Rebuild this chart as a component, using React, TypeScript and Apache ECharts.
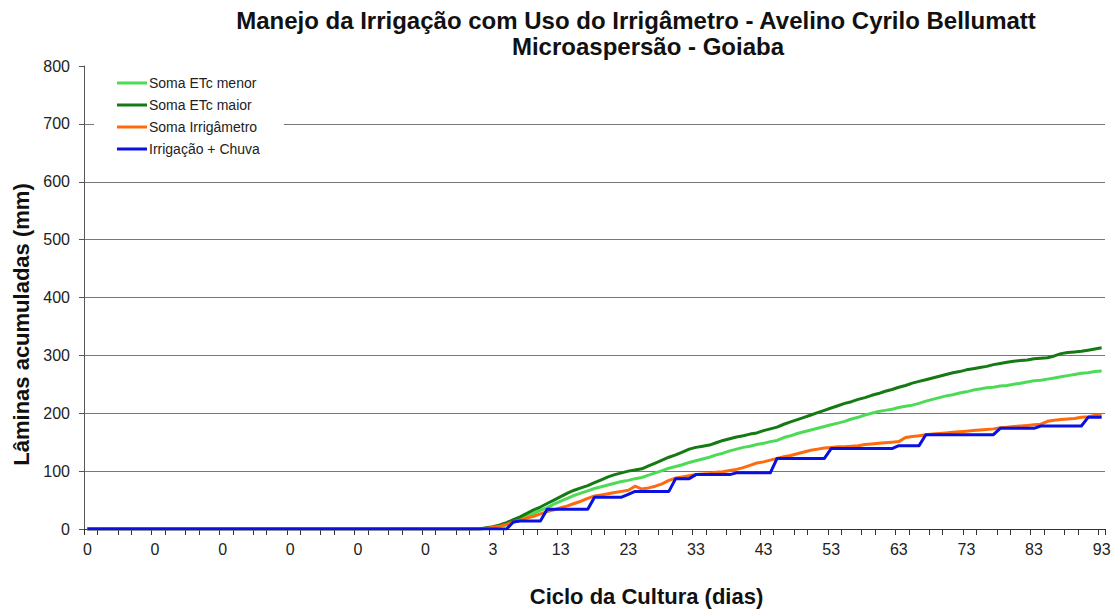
import React, { useEffect, useRef } from 'react';
import * as echarts from 'echarts';

// x-axis category labels (cycle day; pre-cycle categories are labelled 0)
const cicloLabels = [
  0, 0, 0, 0, 0, 0, 0, 0, 0, 0,
  0, 0, 0, 0, 0, 0, 0, 0, 0, 0,
  0, 0, 0, 0, 0, 0, 0, 0, 0, 0,
  0, 0, 0, 0, 0, 0, 0, 0, 0, 0,
  0, 0, 0, 0, 0, 0, 0, 0, 0, 0,
  0, 0, 0, 0, 0, 0, 0, 0, 1, 2,
  3, 4, 5, 6, 7, 8, 9, 10, 11, 12,
  13, 14, 15, 16, 17, 18, 19, 20, 21, 22,
  23, 24, 25, 26, 27, 28, 29, 30, 31, 32,
  33, 34, 35, 36, 37, 38, 39, 40, 41, 42,
  43, 44, 45, 46, 47, 48, 49, 50, 51, 52,
  53, 54, 55, 56, 57, 58, 59, 60, 61, 62,
  63, 64, 65, 66, 67, 68, 69, 70, 71, 72,
  73, 74, 75, 76, 77, 78, 79, 80, 81, 82,
  83, 84, 85, 86, 87, 88, 89, 90, 91, 92,
  93,
].map(String);

// values of all series in the pre-cycle categories (mm)
const preCycle = [
  0, 0, 0, 0, 0, 0, 0, 0, 0, 0,
  0, 0, 0, 0, 0, 0, 0, 0, 0, 0,
  0, 0, 0, 0, 0, 0, 0, 0, 0, 0,
  0, 0, 0, 0, 0, 0, 0, 0, 0, 0,
  0, 0, 0, 0, 0, 0, 0, 0, 0, 0,
  0, 0, 0, 0, 0, 0, 0,
];

// cycle days 0..93 (mm accumulated)
const somaEtcMenor = [
  0, 0, 1, 3, 5, 7, 12, 17, 22, 27,
  32, 37, 43, 48, 53, 58, 62, 66, 70, 73,
  76, 79, 82, 84, 87, 89, 93, 97, 101, 105,
  108, 111, 115, 118, 121, 124, 128, 131, 135, 138,
  141, 143, 146, 148, 151, 153, 158, 161, 165, 168,
  171, 174, 177, 180, 183, 186, 190, 193, 197, 200,
  203, 205, 207, 210, 212, 214, 217, 221, 224, 227,
  230, 232, 235, 237, 240, 242, 244, 245, 247, 248,
  250, 252, 254, 256, 257, 259, 261, 263, 265, 267,
  269, 270, 272, 273,
];

const somaEtcMaior = [
  0, 0, 2, 4, 7, 11, 16, 21, 27, 33,
  38, 44, 50, 56, 62, 67, 71, 75, 80, 85,
  90, 94, 97, 100, 102, 104, 109, 114, 119, 124,
  128, 133, 138, 141, 143, 145, 149, 153, 156, 159,
  161, 164, 166, 170, 173, 176, 181, 185, 189, 193,
  197, 201, 205, 209, 213, 217, 220, 224, 227, 231,
  234, 238, 241, 245, 248, 252, 255, 258, 261, 264,
  267, 270, 272, 275, 277, 279, 281, 284, 286, 288,
  290, 291, 292, 294, 295, 296, 299, 303, 305, 306,
  307, 309, 311, 313,
];

const somaIrrigametro = [
  0, 0, 1, 3, 5, 8, 12, 15, 19, 22,
  26, 30, 33, 37, 40, 44, 48, 53, 57, 59,
  61, 63, 65, 67, 74, 69, 71, 74, 78, 84,
  88, 90, 92, 94, 95, 96, 98, 99, 101, 103,
  106, 110, 114, 116, 119, 122, 125, 127, 130, 133,
  136, 138, 140, 141, 142, 142, 143, 144, 146, 147,
  148, 149, 150, 151, 158, 160, 161, 163, 164, 165,
  166, 167, 168, 169, 170, 171, 172, 173, 175, 176,
  177, 178, 179, 180, 181, 186, 188, 189, 190, 191,
  193, 194, 196, 197,
];

const irrigacaoChuva = [
  0, 0, 0, 0, 0, 0, 12, 14, 14, 14,
  14, 34, 34, 34, 34, 34, 34, 34, 55, 55,
  55, 55, 55, 60, 65, 65, 65, 65, 65, 65,
  87, 87, 87, 94, 94, 94, 94, 94, 94, 97,
  97, 97, 97, 97, 97, 122, 122, 122, 122, 122,
  122, 122, 122, 139, 139, 139, 139, 139, 139, 139,
  139, 139, 139, 144, 144, 144, 144, 163, 163, 163,
  163, 163, 163, 163, 163, 163, 163, 163, 174, 174,
  174, 174, 174, 174, 178, 178, 178, 178, 178, 178,
  178, 193, 193, 193,
];

const yTicks = { min: 0, max: 800, interval: 100 };
const seriesNames = ['Soma ETc menor', 'Soma ETc maior', 'Soma Irrigâmetro', 'Irrigação + Chuva'];
const titleLines = [
  'Manejo da Irrigação com Uso do Irrigâmetro - Avelino Cyrilo Bellumatt',
  'Microaspersão - Goiaba',
];

const FONT = "'Liberation Sans', Arial, Helvetica, sans-serif";

export default function App() {
  const ref = useRef<HTMLDivElement>(null);

  useEffect(() => {
    document.body.style.margin = '0';
    const chart = echarts.init(ref.current as HTMLDivElement, null, { renderer: 'svg' });
    const colors = ['#4ddb57', '#157a14', '#ff6a0d', '#0a10e0'];
    const datasets = [somaEtcMenor, somaEtcMaior, somaIrrigametro, irrigacaoChuva];

    chart.setOption({
      animation: false,
      backgroundColor: '#ffffff',
      textStyle: { fontFamily: FONT },
      graphic: [
        {
          type: 'text',
          x: 636,
          y: 8,
          z: 10,
          style: {
            text: titleLines[0],
            align: 'center',
            verticalAlign: 'top',
            fontSize: 24,
            fontWeight: 'bold',
            fontFamily: FONT,
            fill: '#111',
          },
        },
        {
          type: 'text',
          x: 648,
          y: 34,
          z: 10,
          style: {
            text: titleLines[1],
            align: 'center',
            verticalAlign: 'top',
            fontSize: 24,
            fontWeight: 'bold',
            fontFamily: FONT,
            fill: '#111',
          },
        },
      ],
      legend: {
        data: seriesNames,
        orient: 'vertical',
        left: 94,
        top: 68,
        backgroundColor: '#ffffff',
        padding: [7, 24, 8, 23],
        icon: 'rect',
        itemWidth: 30,
        itemHeight: 3,
        itemGap: 6,
        textStyle: { fontSize: 14, lineHeight: 16, color: '#222', fontFamily: FONT, padding: [0, 0, 0, -3] },
      },
      grid: { left: 84, right: 14, top: 66, bottom: 81, containLabel: false },
      xAxis: {
        type: 'category',
        data: cicloLabels,
        boundaryGap: true,
        name: 'Ciclo da Cultura (dias)',
        nameLocation: 'middle',
        nameGap: 56,
        nameTextStyle: {
          fontSize: 22,
          fontWeight: 'bold',
          color: '#111',
          fontFamily: FONT,
          padding: [0, 0, 0, 104],
        },
        axisLine: { show: true, lineStyle: { color: '#333', width: 1 } },
        axisTick: {
          show: true,
          length: 6,
          lineStyle: { color: '#333' },
          interval: (i: number) => i % 5 === 0 || i % 5 === 2,
        },
        axisLabel: { interval: 9, fontSize: 16, color: '#222', margin: 12, fontFamily: FONT },
        splitLine: { show: false },
      },
      yAxis: {
        type: 'value',
        min: yTicks.min,
        max: yTicks.max,
        interval: yTicks.interval,
        name: 'Lâminas acumuladas (mm)',
        nameLocation: 'middle',
        nameGap: 52,
        nameTextStyle: {
          fontSize: 22,
          fontWeight: 'bold',
          color: '#111',
          fontFamily: FONT,
          padding: [0, 54, 0, 0],
        },
        axisLine: { show: true, lineStyle: { color: '#555', width: 1 } },
        axisTick: { show: true, length: 5, lineStyle: { color: '#555' } },
        axisLabel: { fontSize: 16, color: '#222', margin: 14, fontFamily: FONT },
        splitLine: { show: true, showMaxLine: false, lineStyle: { color: '#777', width: 1 } },
      },
      series: datasets.map((d, i) => ({
        name: seriesNames[i],
        type: 'line',
        data: preCycle.concat(d),
        symbol: 'none',
        showSymbol: false,
        smooth: false,
        color: colors[i],
        lineStyle: { color: colors[i], width: 3, join: 'round' },
        emphasis: { disabled: true },
        z: 2 + i,
      })),
    });

    return () => chart.dispose();
  }, []);

  return (
    <div
      ref={ref}
      style={{ width: 1119, height: 612, position: 'absolute', left: 0, top: 0, background: '#fff' }}
    />
  );
}
